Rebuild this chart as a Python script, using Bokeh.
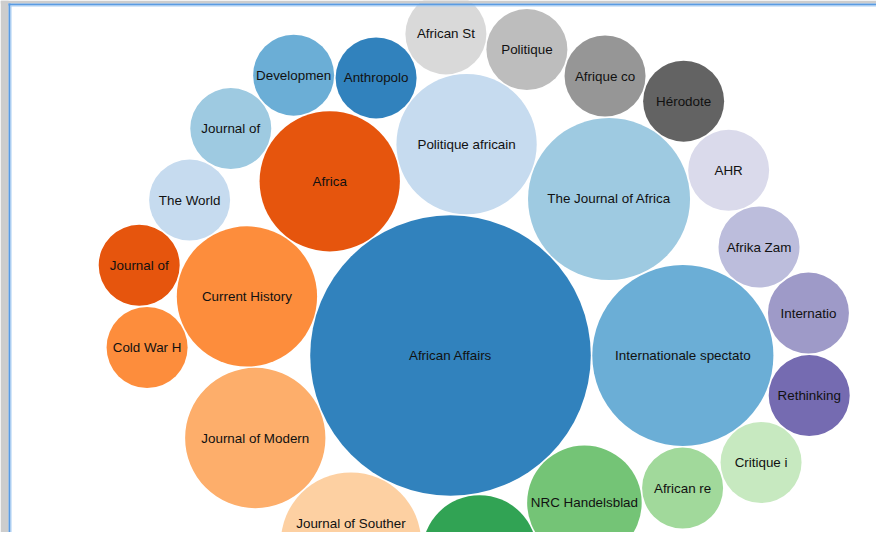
import math
from bokeh.plotting import figure
from bokeh.models import ColumnDataSource, Range1d, BoxAnnotation
from bokeh.palettes import Category20c
from bokeh.embed import file_html
from bokeh.resources import INLINE
from bokeh.core.properties import value

# ---- data (in pack order, largest first) ----
labels = ["African Affairs", "Internationale spectato", "The Journal of Africa",
          "Politique africain", "Africa", "Current History", "Journal of Modern",
          "Journal of Souther", "", "NRC Handelsblad", "African re", "Critique i",
          "Rethinking", "Internatio", "Afrika Zam", "AHR", "Hérodote", "Afrique co",
          "Politique", "African St", "Anthropolo", "Developmen", "Journal of",
          "The World", "Journal of", "Cold War H"]
counts = [12, 5, 4, 3, 3, 3, 3, 3, 2, 2, 1, 1, 1, 1, 1, 1, 1, 1, 1, 1, 1, 1, 1, 1, 1, 1]

# ---- layout parameters ----
K = 40.5          # pixels of radius per sqrt(count)
PAD = 1.5         # d3 pack padding
ANCHOR = (450.0, 355.0)   # centre of the first (largest) bubble in pixels
W, H = 876, 532
LABEL_MAX_Y = 523  # keep labels inside the visible area


def pack_siblings(radii):
    """d3 v3 front-chain circle packing."""
    n = len(radii)
    X = [0.0] * n
    Y = [0.0] * n
    R = list(radii)
    nxt = list(range(n))
    prv = list(range(n))

    def place(a, b, c):
        db = R[a] + R[c]
        dx = X[b] - X[a]
        dy = Y[b] - Y[a]
        if db and (dx or dy):
            da = R[b] + R[c]
            dc = dx * dx + dy * dy
            da *= da
            db *= db
            x = 0.5 + (db - da) / (2 * dc)
            y = math.sqrt(max(0.0, 2 * da * (db + dc) - (db - dc) ** 2 - da * da)) / (2 * dc)
            X[c] = X[a] + x * dx + y * dy
            Y[c] = Y[a] + x * dy - y * dx
        else:
            X[c] = X[a] + db
            Y[c] = Y[a]

    def intersects(a, b):
        dx = X[b] - X[a]
        dy = Y[b] - Y[a]
        dr = R[a] + R[b]
        return 0.999 * dr * dr > dx * dx + dy * dy

    def insert(a, b):
        c = nxt[a]
        nxt[a] = b
        prv[b] = a
        nxt[b] = c
        prv[c] = b

    def splice(a, b):
        nxt[a] = b
        prv[b] = a

    a = 0
    X[0] = -R[0]
    if n > 1:
        b = 1
        X[1] = R[1]
        if n > 2:
            c = 2
            place(a, b, c)
            insert(a, c)
            prv[a] = c
            insert(c, b)
            b = nxt[a]
            i = 3
            guard = 0
            while i < n and guard < 10000:
                guard += 1
                c = i
                place(a, b, c)
                isect = False
                s1 = 1
                s2 = 1
                j = nxt[b]
                while j != b:
                    if intersects(j, c):
                        isect = True
                        break
                    j = nxt[j]
                    s1 += 1
                if isect:
                    k = prv[a]
                    while k != prv[j]:
                        if intersects(k, c):
                            break
                        k = prv[k]
                        s2 += 1
                    if s1 < s2 or (s1 == s2 and R[b] < R[a]):
                        b = j
                        splice(a, b)
                    else:
                        a = k
                        splice(a, b)
                else:
                    insert(a, c)
                    b = c
                    i += 1
    return X, Y


radii = [K * math.sqrt(v) for v in counts]
px, py = pack_siblings([r + PAD / 2 for r in radii])
xs = [ANCHOR[0] + (x - px[0]) for x in px]
ys = [ANCHOR[1] + (y - py[0]) for y in py]
colors = [Category20c[20][i % 20] for i in range(len(counts))]

src = ColumnDataSource(dict(x=xs, y=ys, r=radii, color=colors, label=labels))
tsrc = ColumnDataSource(dict(
    x=[x for x, l in zip(xs, labels) if l],
    y=[min(y, LABEL_MAX_Y) for y, l in zip(ys, labels) if l],
    label=[l for l in labels if l],
))

p = figure(width=W, height=H, output_backend="svg", toolbar_location=None,
           x_range=Range1d(0, W), y_range=Range1d(H, 0),
           min_border=0, outline_line_color=None, background_fill_color="white")
p.axis.visible = False
p.grid.visible = False

# host page frame: grey surround with a blue panel border
p.add_layout(BoxAnnotation(left=0, right=8, fill_color="#cdcdcd", fill_alpha=1, line_color=None))
p.add_layout(BoxAnnotation(top=0, bottom=3, fill_color="#cdcdcd", fill_alpha=1, line_color=None))
p.add_layout(BoxAnnotation(left=8, right=10, top=3, bottom=H, fill_color="#5a9be2", fill_alpha=1, line_color=None))
p.add_layout(BoxAnnotation(left=8, top=3, bottom=5, fill_color="#5a9be2", fill_alpha=1, line_color=None))
p.add_layout(BoxAnnotation(left=10, right=11, top=5, bottom=H, fill_color="#a9cdf2", fill_alpha=1, line_color=None))
p.add_layout(BoxAnnotation(left=10, top=5, bottom=6, fill_color="#a9cdf2", fill_alpha=1, line_color=None))

p.circle(x="x", y="y", radius="r", source=src, fill_color="color", line_color=None)
p.text(x="x", y="y", text="label", source=tsrc, text_align="center",
       text_baseline="middle", y_offset=0, text_font=value("Liberation Sans"),
       text_font_size="13.4px", text_color="#111111")

open("out.html", "w").write(file_html(p, INLINE))
